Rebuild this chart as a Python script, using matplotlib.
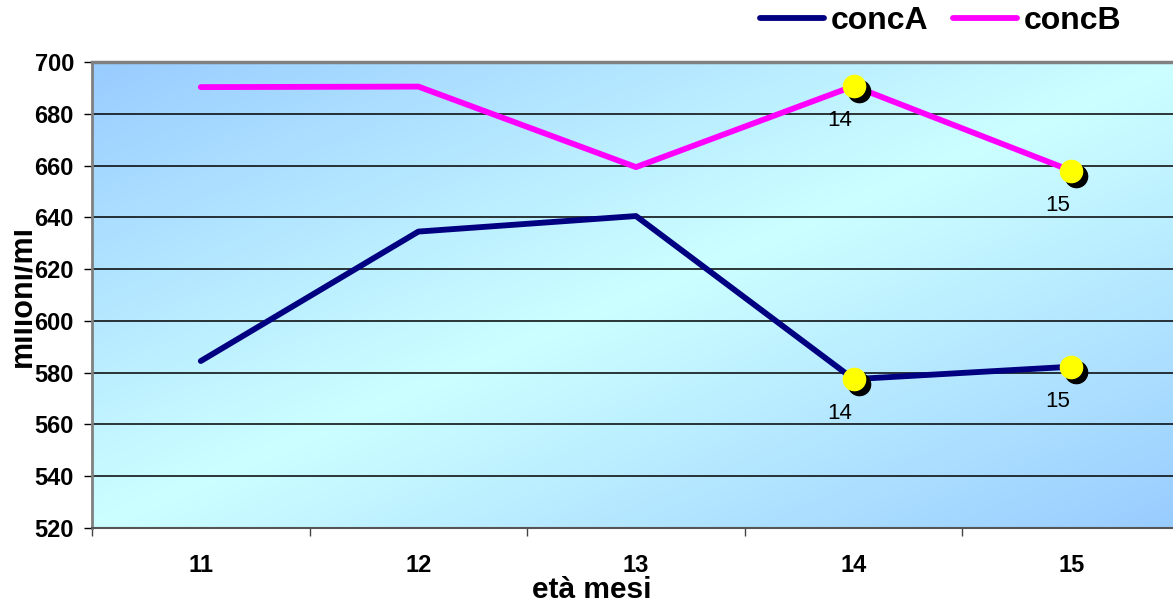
import numpy as np
import matplotlib
matplotlib.use("Agg")
import matplotlib.pyplot as plt
from matplotlib.transforms import Bbox, TransformedBbox

plt.rcParams["font.family"] = ["Liberation Sans", "DejaVu Sans"]

months = ["11", "12", "13", "14", "15"]
conc_a = [584.5, 634.5, 640.5, 577.5, 582.3]
conc_b = [690.3, 690.5, 659.4, 690.7, 658.0]
marked = ["14", "15"]

W, H = 1173, 606
fig = plt.figure(figsize=(W / 100, H / 100), dpi=100)
ax = fig.add_axes([92 / W, (H - 528) / H, (1180 - 92) / W, (528 - 62) / H])

x = np.arange(len(months))
ax.set_xlim(-0.5, len(months) - 0.5)
ax.set_ylim(520, 700)

# diagonal blue -> cyan -> blue background
u = np.linspace(0, 1, 400)
v = np.linspace(0, 1, 200)
uu, vv = np.meshgrid(u, v)
t = 1 - np.abs(uu + vv - 1)
blue = np.array([153, 204, 255]) / 255
cyan = np.array([204, 255, 255]) / 255
grad = blue + (cyan - blue) * t[..., None]
ax.imshow(grad, extent=(0, 1, 0, 1), transform=ax.transAxes,
          aspect="auto", zorder=0, origin="upper")

ax.set_yticks(np.arange(520, 701, 20))
for yv in range(540, 700, 20):
    ax.axhline(yv, color="black", lw=1.1, zorder=1)

ax.plot(x, conc_a, color="#000080", lw=4.2, solid_capstyle="round",
        zorder=3, label="concA")
ax.plot(x, conc_b, color="#FF00FF", lw=4.2, solid_capstyle="round",
        zorder=3, label="concB")

for series in (conc_a, conc_b):
    for m in marked:
        i = months.index(m)
        ax.plot(x[i] + 0.024, series[i] - 2.0, "o", ms=16, color="black",
                zorder=4)
        ax.plot(x[i], series[i], "o", ms=16, color="#FFFF00", zorder=5)
        ax.annotate(m, (x[i], series[i]), xytext=(-10, -25),
                    textcoords="offset points", ha="center", va="center",
                    fontsize=16, color="black", zorder=6)

ax.set_xticks(x)
ax.set_xticklabels(months)
ax.set_xticks(np.arange(-0.5, len(months), 1), minor=True)
ax.tick_params(axis="x", which="major", length=0, pad=19, labelsize=17)
ax.tick_params(axis="x", which="minor", length=6, width=1, color="#444444",
               direction="out")
ax.tick_params(axis="y", length=6, width=1, pad=7, labelsize=17)
for lbl in ax.get_xticklabels() + ax.get_yticklabels():
    lbl.set_fontweight("bold")

ax.spines["top"].set_color("#808080")
ax.spines["top"].set_linewidth(2.5)
ax.spines["left"].set_color("#808080")
ax.spines["left"].set_linewidth(2)
ax.spines["bottom"].set_color("#555555")
ax.spines["bottom"].set_linewidth(1.5)
ax.spines["right"].set_visible(False)

fig.text(592 / W, 1 - 590 / H, "età mesi", ha="center", va="center",
         fontsize=21.5, fontweight="bold")
# y title sits against the left edge, its top is cut off
ylab = fig.text(30 / W, 1 - 296 / H, "milioni/ml", ha="center",
                va="baseline", rotation=90, rotation_mode="anchor",
                fontsize=22, fontweight="bold")
ylab.set_clip_box(TransformedBbox(Bbox([[14 / W, 0], [1, 1]]),
                                  fig.transFigure))
ylab.set_clip_on(True)

fig.legend(loc="center left", bbox_to_anchor=(760 / W, 1 - 21 / H),
           ncol=2, frameon=False, prop={"weight": "bold", "size": 23},
           handlelength=2.0, handletextpad=0.2, columnspacing=0.8,
           borderpad=0, borderaxespad=0)

fig.savefig("out.png", dpi=100)
